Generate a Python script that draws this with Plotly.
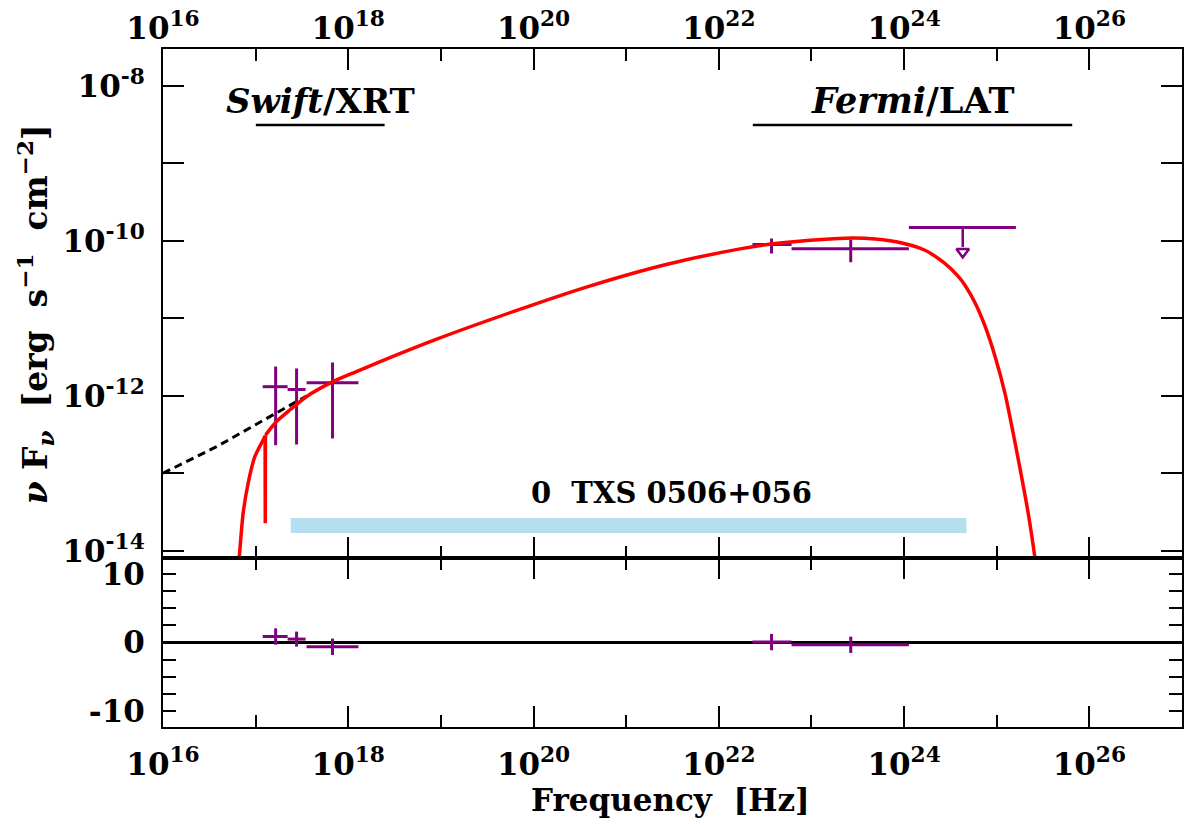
import math
import plotly.graph_objects as go

# ---------------- data ----------------
# Swift/XRT flux points: frequency [Hz] (centre, bin edges) and nuFnu [erg s^-1 cm^-2]
xrt_nu = [1.644e17, 2.767e17, 6.761e17]
xrt_nu_lo = [1.191e17, 2.213e17, 3.548e17]
xrt_nu_hi = [2.213e17, 3.459e17, 1.288e18]
xrt_flux = [1.318e-12, 1.213e-12, 1.479e-12]
xrt_flux_lo = [2.317e-13, 2.366e-13, 2.831e-13]
xrt_flux_hi = [2.399e-12, 2.265e-12, 2.704e-12]

# Fermi/LAT flux points
lat_nu = [3.707e22, 2.655e23]
lat_nu_lo = [2.307e22, 6.095e22]
lat_nu_hi = [6.095e22, 1.127e24]
lat_flux = [9.02e-11, 7.93e-11]
lat_flux_lo = [6.90e-11, 5.32e-11]
lat_flux_hi = [1.076e-10, 1.045e-10]

# Fermi/LAT upper limit
ul_nu = [4.295e24]
ul_nu_lo = [1.127e24]
ul_nu_hi = [1.611e25]
ul_flux = [1.493e-10]

# residuals (sigma) for the five flux points
res_nu = xrt_nu + lat_nu
res_nu_lo = xrt_nu_lo + lat_nu_lo
res_nu_hi = xrt_nu_hi + lat_nu_hi
res_val = [0.88, 0.50, -0.63, 0.06, -0.34]
res_err = [1.2, 1.1, 1.2, 1.2, 1.2]

# absorbed model (log10 nu, log10 nuFnu): low-energy part, absorption edge, high-energy part
model_lo_lognu = [16.80, 16.822, 16.865, 16.919, 16.991, 17.081, 17.102]
model_lo_logf = [-14.35, -14.094, -13.514, -13.126, -12.783, -12.568, -12.516]
edge_lognu = [17.102, 17.104, 17.106]
edge_logf = [-12.516, -13.643, -12.505]
model_hi_lognu = [17.106, 17.225, 17.368, 17.548, 17.835, 18.087, 18.338, 18.947,
                  19.772, 20.596, 21.421, 22.245, 22.658, 23.070, 23.441, 23.688,
                  23.977, 24.225, 24.430, 24.587, 24.659, 24.767, 24.874, 24.982,
                  25.089, 25.178, 25.268, 25.340, 25.413, 25.44]
model_hi_logf = [-12.505, -12.33, -12.181, -12.009, -11.815, -11.686, -11.56, -11.27,
                 -10.915, -10.585, -10.306, -10.099, -10.026, -9.983, -9.961, -9.974,
                 -10.026, -10.12, -10.28, -10.46, -10.575, -10.80, -11.10, -11.49,
                 -11.965, -12.481, -13.041, -13.514, -14.094, -14.35]

# unabsorbed model at low frequencies
unabs_lognu = [16.0, 16.578, 17.44, 17.55]
unabs_logf = [-12.997, -12.654, -12.074, -12.0]

# instrument bands (Hz)
xrt_band = [1.005e17, 2.466e18]
lat_band = [2.328e22, 6.531e25]
band_level = 3.14e-9

# source label and its bar
source_name = "0  TXS 0506+056"
source_bar = [2.393e17, 4.710e24]
source_bar_level = 2.13e-14

PURPLE = "#800080"
RED = "#ff0000"
FONT = "DejaVu Serif"

fig = go.Figure()


def err_trace(nu, lo, hi, f, flo, fhi, xa, ya):
    return go.Scatter(
        x=nu, y=f, mode="markers", marker=dict(size=4, color=PURPLE, opacity=0),
        error_x=dict(type="data", symmetric=False,
                     array=[h - c for h, c in zip(hi, nu)],
                     arrayminus=[c - l for c, l in zip(nu, lo)],
                     thickness=3, width=0, color=PURPLE),
        error_y=dict(type="data", symmetric=False,
                     array=[h - c for h, c in zip(fhi, f)],
                     arrayminus=[c - l for c, l in zip(f, flo)],
                     thickness=3, width=0, color=PURPLE),
        xaxis=xa, yaxis=ya, hoverinfo="skip")


# source bar
fig.add_trace(go.Scatter(x=source_bar, y=[source_bar_level] * 2, mode="lines",
                         line=dict(color="#b5dff0", width=15), xaxis="x", yaxis="y"))

# instrument band lines
for band in (xrt_band, lat_band):
    fig.add_trace(go.Scatter(x=band, y=[band_level] * 2, mode="lines",
                             line=dict(color="black", width=2.5), xaxis="x", yaxis="y"))

# unabsorbed model (dashed)
fig.add_trace(go.Scatter(x=[10.0 ** v for v in unabs_lognu], y=[10.0 ** v for v in unabs_logf],
                         mode="lines", line=dict(color="black", width=3, dash="8px,5px"),
                         xaxis="x", yaxis="y"))

# flux points
fig.add_trace(err_trace(xrt_nu, xrt_nu_lo, xrt_nu_hi, xrt_flux, xrt_flux_lo, xrt_flux_hi, "x", "y"))
fig.add_trace(err_trace(lat_nu, lat_nu_lo, lat_nu_hi, lat_flux, lat_flux_lo, lat_flux_hi, "x", "y"))

# upper limit: horizontal bar, stem and open arrow head
fig.add_trace(go.Scatter(x=ul_nu, y=ul_flux, mode="markers",
                         marker=dict(size=4, color=PURPLE, opacity=0),
                         error_x=dict(type="data", symmetric=False,
                                      array=[ul_nu_hi[0] - ul_nu[0]],
                                      arrayminus=[ul_nu[0] - ul_nu_lo[0]],
                                      thickness=3, width=0, color=PURPLE),
                         xaxis="x", yaxis="y"))
fig.add_trace(go.Scatter(x=[ul_nu[0], ul_nu[0]], y=[ul_flux[0], ul_flux[0] * 0.56],
                         mode="lines", line=dict(color=PURPLE, width=2.5), xaxis="x", yaxis="y"))
fig.add_trace(go.Scatter(x=[ul_nu[0]], y=[ul_flux[0] * 0.485], mode="markers",
                         marker=dict(symbol="triangle-down-open", size=11, color=PURPLE,
                                     line=dict(width=2.5, color=PURPLE)),
                         xaxis="x", yaxis="y"))

# absorbed model
for lx, ly, shape in ((model_lo_lognu, model_lo_logf, "spline"),
                      (edge_lognu, edge_logf, "linear"),
                      (model_hi_lognu, model_hi_logf, "spline")):
    fig.add_trace(go.Scatter(x=[10.0 ** v for v in lx], y=[10.0 ** v for v in ly], mode="lines",
                             line=dict(color=RED, width=3.5, shape=shape, smoothing=0.7),
                             xaxis="x", yaxis="y"))

# residual panel
fig.add_trace(err_trace(res_nu, res_nu_lo, res_nu_hi, res_val,
                        [v - e for v, e in zip(res_val, res_err)],
                        [v + e for v, e in zip(res_val, res_err)], "x2", "y2"))

# ---------------- axes ----------------
maj_x = [10.0 ** e for e in range(16, 27, 2)]
min_x = [10.0 ** e for e in range(17, 27, 2)]
x_text = ["10<sup>%d</sup>" % e for e in range(16, 27, 2)]

common_x = dict(type="log", range=[16, 27], tickvals=maj_x, ticktext=x_text,
                ticks="inside", ticklen=21, tickwidth=2, tickcolor="black",
                minor=dict(tickvals=min_x, ticks="inside", ticklen=12, tickwidth=2,
                           tickcolor="black"),
                showline=True, linewidth=2, linecolor="black", mirror="ticks",
                showgrid=False, zeroline=False,
                tickfont=dict(family=FONT, size=31, color="black", weight="bold"))

y_exps = list(range(-14, -7))
y_text = [("10<sup>-%d</sup>" % -e) if e % 2 == 0 else "" for e in y_exps]

r_vals = [-10, -7.5, -5, -2.5, 0, 2.5, 5, 7.5, 10]
r_text = ["-10", "", "", "", "0", "", "", "", "10"]

fig.update_layout(
    width=1184, height=825,
    margin=dict(l=163, r=0, t=49, b=98),
    paper_bgcolor="white", plot_bgcolor="white",
    showlegend=False,
    font=dict(family=FONT, color="black"),
    xaxis=dict(common_x, domain=[0, 1], anchor="y", side="top", ticklabelstandoff=-4),
    xaxis2=dict(common_x, domain=[0, 1], anchor="y2", side="bottom", matches="x",
                ticklabelstandoff=9),
    yaxis=dict(type="log", range=[-14.09, -7.523], domain=[0.2493, 1], anchor="x",
               tickvals=[10.0 ** e for e in y_exps], ticktext=y_text,
               ticks="inside", ticklen=21, tickwidth=2, tickcolor="black",
               showline=True, linewidth=2, linecolor="black", mirror="ticks",
               showgrid=False, zeroline=False,
               tickfont=dict(family=FONT, size=31, color="black", weight="bold"),
               ticklabelstandoff=10),
    yaxis2=dict(range=[-12.4, 12.4], domain=[0, 0.2493], anchor="x2",
                tickvals=r_vals, ticktext=r_text,
                ticks="inside", ticklen=13, tickwidth=2, tickcolor="black",
                showline=True, linewidth=2, linecolor="black", mirror="ticks",
                showgrid=False, zeroline=True, zerolinecolor="black", zerolinewidth=3,
                tickfont=dict(family=FONT, size=31, color="black", weight="bold"),
                ticklabelstandoff=10),
)

# ---------------- labels ----------------


def logmid(a, b):
    return (math.log10(a) + math.log10(b)) / 2


fig.add_annotation(x=logmid(*xrt_band), y=-8.19, xref="x", yref="y",
                   text="<b><i>Swift</i>/XRT</b>", showarrow=False,
                   xanchor="center", yanchor="middle",
                   font=dict(family=FONT, size=34, color="black"))
fig.add_annotation(x=logmid(*lat_band), y=-8.19, xref="x", yref="y",
                   text="<b><i>Fermi</i>/LAT</b>", showarrow=False,
                   xanchor="center", yanchor="middle",
                   font=dict(family=FONT, size=35, color="black"))
fig.add_annotation(x=21.484, y=-13.252, xref="x", yref="y",
                   text="<b>%s</b>" % source_name, showarrow=False,
                   xanchor="center", yanchor="middle",
                   font=dict(family=FONT, size=29, color="black"))
fig.add_annotation(x=0.4985, y=-0.108, xref="paper", yref="paper",
                   text="<b>Frequency  [Hz]</b>", showarrow=False,
                   xanchor="center", yanchor="middle",
                   font=dict(family=FONT, size=31, color="black"))
fig.add_annotation(x=-0.1254, y=0.609, xref="paper", yref="paper", textangle=-90,
                   text="<b><i>ν</i> F<sub><i>ν</i></sub>  [erg  s<sup>−1</sup>  cm<sup>−2</sup>]</b>",
                   showarrow=False, xanchor="center", yanchor="middle",
                   font=dict(family=FONT, size=33, color="black"))

fig.write_html("out.html")
